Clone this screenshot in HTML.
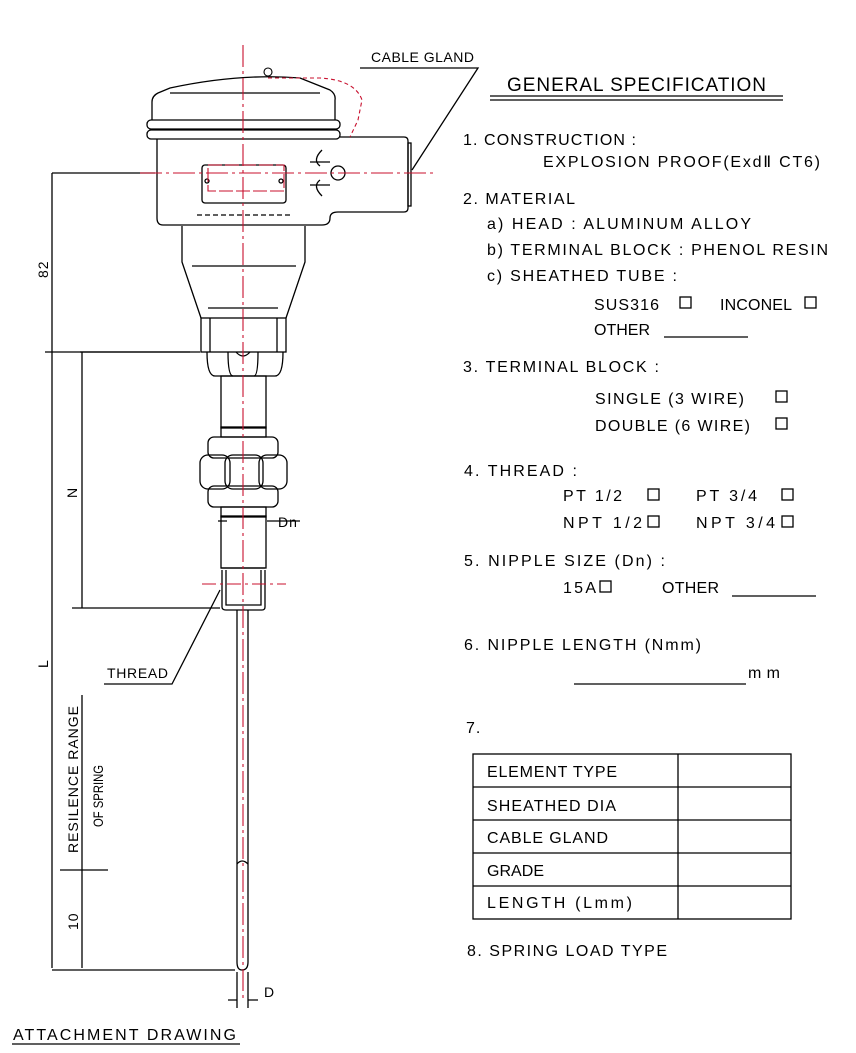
<!DOCTYPE html>
<html><head><meta charset="utf-8"><style>
html,body{margin:0;padding:0;background:#fff}
svg{display:block}
text{font-family:"Liberation Sans",sans-serif;font-size:16px;fill:#000;letter-spacing:1px}
</style></head><body>
<svg width="856" height="1053" viewBox="0 0 856 1053" xmlns="http://www.w3.org/2000/svg">
<g fill="none" stroke="#000" stroke-width="1.3">
<path d="M158,93 L170,88 Q240,73 300,78 L330,90 Q336,94 335,100 L335,120 M158,93 Q152,96 152,102 L152,120"/>
<line x1="170" y1="93" x2="320" y2="93"/>
<rect x="147" y="120" width="193" height="9" rx="4"/>
<rect x="147" y="130" width="193" height="9" rx="4"/>
<path d="M157,139 L157,218 Q157,225 163,225 L322,225 Q330,225 330,218 Q330,212 338,212 L404,212 Q408,212 408,208 L408,141 Q408,137 404,137 L340,137"/>
<rect x="408" y="143" width="3" height="63"/>
<rect x="202" y="165" width="84" height="38" rx="3"/>
<circle cx="207" cy="181" r="2"/><circle cx="281" cy="181" r="2"/>
<path d="M197,215 H290" stroke-dasharray="5,3"/>
<path d="M310,162 H330 M310,185 H330"/>
<circle cx="338" cy="173" r="7"/>
<path d="M322,150 Q312,160 320,166 M322,196 Q312,186 320,180"/>
<path d="M182,226 L182,262 L201,318 M305,226 L305,262 L286,318"/>
<line x1="192" y1="266" x2="296" y2="266"/>
<line x1="208" y1="308" x2="278" y2="308"/>
<rect x="201" y="318" width="85" height="34"/>
<line x1="210" y1="318" x2="210" y2="352"/><line x1="277" y1="318" x2="277" y2="352"/>
<path d="M207,352 Q207,376 215,376 L275,376 Q283,376 283,352"/>
<path d="M228,352 Q228,376 233,376 M258,352 Q258,376 254,376 M236,352 Q243,360 250,352"/>
<rect x="221" y="376" width="45" height="52"/>
<rect x="221" y="427" width="45" height="10"/>
<rect x="208" y="437" width="70" height="21" rx="6"/>
<rect x="208" y="486" width="70" height="21" rx="6"/>
<rect x="200" y="455" width="30" height="34" rx="8"/>
<rect x="225" y="455" width="38" height="34" rx="8"/>
<rect x="259" y="455" width="28" height="34" rx="8"/>
<rect x="221" y="507" width="45" height="10"/>
<rect x="221" y="516" width="45" height="52"/>
<path d="M221,568 L265,568 M222,570 L222,607 Q222,610 226,610 L262,610 Q265,610 265,607 L265,570"/>
<path d="M226,570 V605 H261 V570"/>
<path d="M237,610 V962 Q237,970 242,970 Q248,970 248,962 V610"/>
<path d="M237,864 Q242,858 248,864"/>
<path d="M52,173 H155 M52,173 V968 M45,352 H190 M52,970 H235"/>
<path d="M82,352 V608 M72,608 H220 M82,695 V968 M60,870 H108"/>
<path d="M80,352 H200"/>
<path d="M228,1000 H237 M248,1000 H258 M237,972 V1008 M248,972 V1008"/>
<path d="M227,521 H218 M267,521 H300"/>
<path d="M104,684 H172 L220,590"/>
<path d="M360,68 H478 L412,170"/>
<path d="M490,100 H783 M490,96 H783" stroke-width="1.2"/>
<path d="M12,1044 H240" stroke-width="1.2"/>
<path d="M664,337 H748 M732,596 H816 M574,684 H746"/>
<rect x="680" y="297" width="11" height="11"/><rect x="805" y="297" width="11" height="11"/>
<rect x="776" y="391" width="11" height="11"/><rect x="776" y="418" width="11" height="11"/>
<rect x="648" y="489" width="11" height="11"/><rect x="782" y="489" width="11" height="11"/>
<rect x="648" y="516" width="11" height="11"/><rect x="782" y="516" width="11" height="11"/>
<rect x="600" y="581" width="11" height="11"/>
<rect x="473" y="754" width="318" height="165"/>
<path d="M678,754 V919 M473,787 H791 M473,820 H791 M473,853 H791 M473,886 H791"/>
</g>
<g stroke="#c8102e" stroke-width="1.1" fill="none">
<path d="M243,45 V1000" stroke-dasharray="22,4,3,4"/>
<path d="M140,173 H435" stroke-dasharray="22,4,3,4"/>
<path d="M202,584 H286" stroke-dasharray="14,4,3,4"/>
<path d="M268,78 H320 Q355,80 362,100 L358,120 L350,137" stroke-dasharray="4,3"/>
<path d="M208,165 H284 V191 H208 Z" stroke-dasharray="14,3"/>
<circle cx="268" cy="72" r="4" stroke="#000"/>
</g>
<text x="13" y="1040" textLength="224">ATTACHMENT DRAWING</text>
<text x="107" y="678" style="font-size:14px" textLength="62">THREAD</text>
<text x="371" y="62" style="font-size:14px" textLength="104">CABLE GLAND</text>
<text x="278" y="527" style="font-size:14px">Dn</text>
<text x="264" y="997" style="font-size:14px">D</text>
<text transform="translate(48,278) rotate(-90)" style="font-size:14px">82</text>
<text transform="translate(77,498) rotate(-90)" style="font-size:14px">N</text>
<text transform="translate(48,668) rotate(-90)" style="font-size:14px">L</text>
<text transform="translate(78,853) rotate(-90)" style="font-size:14px" textLength="148">RESILENCE RANGE</text>
<text transform="translate(103,827) rotate(-90)" style="font-size:14px;letter-spacing:0" textLength="62" lengthAdjust="spacingAndGlyphs">OF SPRING</text>
<text transform="translate(78,930) rotate(-90)" style="font-size:14px">10</text>
<text x="507" y="91" style="font-size:19px" textLength="260">GENERAL SPECIFICATION</text>
<text x="463" y="145" textLength="174">1. CONSTRUCTION :</text>
<text x="543" y="167" textLength="278">EXPLOSION PROOF(ExdⅡ  CT6)</text>
<text x="463" y="204" textLength="113">2. MATERIAL</text>
<text x="487" y="229" textLength="265">a) HEAD : ALUMINUM ALLOY</text>
<text x="487" y="255" textLength="342">b) TERMINAL BLOCK : PHENOL RESIN</text>
<text x="487" y="281" textLength="191">c) SHEATHED TUBE :</text>
<text x="594" y="310" textLength="66">SUS316</text>
<text x="720" y="310" textLength="73">INCONEL</text>
<text x="594" y="335" textLength="57">OTHER</text>
<text x="463" y="372" textLength="197">3. TERMINAL BLOCK :</text>
<text x="595" y="404" textLength="150">SINGLE (3 WIRE)</text>
<text x="595" y="431" textLength="156">DOUBLE (6 WIRE)</text>
<text x="464" y="476" textLength="114">4. THREAD :</text>
<text x="563" y="501" textLength="60">PT 1/2</text>
<text x="696" y="501" textLength="62">PT 3/4</text>
<text x="563" y="528" textLength="80">NPT 1/2</text>
<text x="696" y="528" textLength="80">NPT 3/4</text>
<text x="464" y="566" textLength="202">5. NIPPLE SIZE (Dn) :</text>
<text x="563" y="593" textLength="34">15A</text>
<text x="662" y="593" textLength="58">OTHER</text>
<text x="464" y="650" textLength="238">6. NIPPLE LENGTH (Nmm)</text>
<text x="748" y="678" textLength="33">mm</text>
<text x="466" y="733">7.</text>
<text x="487" y="777" textLength="131">ELEMENT TYPE</text>
<text x="487" y="811" textLength="130">SHEATHED DIA</text>
<text x="487" y="843" textLength="122">CABLE GLAND</text>
<text x="487" y="876" textLength="58">GRADE</text>
<text x="487" y="908" textLength="146">LENGTH  (Lmm)</text>
<text x="467" y="956" textLength="201">8. SPRING LOAD TYPE</text>
</svg>
</body></html>
